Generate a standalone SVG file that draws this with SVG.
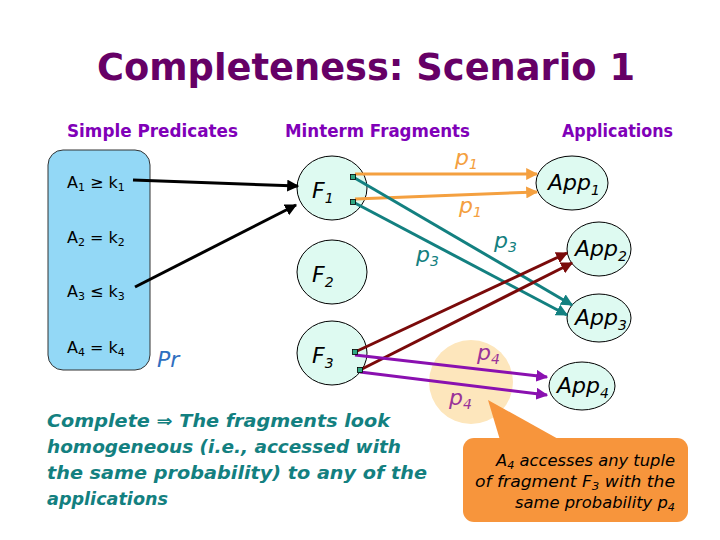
<svg xmlns="http://www.w3.org/2000/svg" width="720" height="540" viewBox="0 0 720 540">
<style>
.title{font-family:"DejaVu Sans",sans-serif;font-weight:bold;font-size:38px;fill:#660066}
.hdr{font-family:"DejaVu Sans",sans-serif;font-weight:bold;font-size:17px;fill:#8000b8}
.pred{font-family:"DejaVu Sans",sans-serif;font-size:16px;fill:#000}
.node{font-family:"DejaVu Sans",sans-serif;font-style:italic;font-size:22px;fill:#000}
.lbl{font-family:"DejaVu Sans",sans-serif;font-style:italic;font-size:22px}
.body{font-family:"DejaVu Sans",sans-serif;font-style:italic;font-weight:bold;font-size:17.5px;fill:#138080}
.call{font-family:"DejaVu Sans",sans-serif;font-style:italic;font-size:16px;fill:#000}
.frag{fill:#defaf1;stroke:#000;stroke-width:1}
.app{fill:#defaf1;stroke:#000;stroke-width:1}
.sq{fill:#2fa882;stroke:#000;stroke-width:0.8}
.c{fill:none;stroke-width:3}
</style>
<defs>
<marker id="mk" viewBox="0 0 10 10" refX="9" refY="5" markerWidth="4" markerHeight="4" orient="auto" markerUnits="strokeWidth"><path d="M0,0L10,5L0,10z" fill="#000"/></marker>
<marker id="mo" viewBox="0 0 10 10" refX="9" refY="5" markerWidth="4" markerHeight="4" orient="auto" markerUnits="strokeWidth"><path d="M0,0L10,5L0,10z" fill="#f4a040"/></marker>
<marker id="mt" viewBox="0 0 10 10" refX="9" refY="5" markerWidth="4" markerHeight="4" orient="auto" markerUnits="strokeWidth"><path d="M0,0L10,5L0,10z" fill="#138080"/></marker>
<marker id="mr" viewBox="0 0 10 10" refX="9" refY="5" markerWidth="4" markerHeight="4" orient="auto" markerUnits="strokeWidth"><path d="M0,0L10,5L0,10z" fill="#7a0a0a"/></marker>
<marker id="mp" viewBox="0 0 10 10" refX="9" refY="5" markerWidth="4" markerHeight="4" orient="auto" markerUnits="strokeWidth"><path d="M0,0L10,5L0,10z" fill="#8a10b0"/></marker>
</defs>
<rect width="720" height="540" fill="#fff"/>
<text class="title" x="97" y="80" textLength="538" lengthAdjust="spacingAndGlyphs">Completeness: Scenario 1</text>
<text class="hdr" x="67" y="137" textLength="171" lengthAdjust="spacingAndGlyphs">Simple Predicates</text>
<text class="hdr" x="285" y="137" textLength="185" lengthAdjust="spacingAndGlyphs">Minterm Fragments</text>
<text class="hdr" x="562" y="137" textLength="111" lengthAdjust="spacingAndGlyphs">Applications</text>

<g id="predicates">
<rect x="48" y="150" width="102" height="220" rx="15" fill="#93d8f6" stroke="#333" stroke-width="1"/>
<text class="pred" x="67" y="188">A<tspan font-size="11" dy="3">1</tspan><tspan dy="-3"> ≥ k</tspan><tspan font-size="11" dy="3">1</tspan></text>
<text class="pred" x="67" y="243">A<tspan font-size="11" dy="3">2</tspan><tspan dy="-3"> = k</tspan><tspan font-size="11" dy="3">2</tspan></text>
<text class="pred" x="67" y="297">A<tspan font-size="11" dy="3">3</tspan><tspan dy="-3"> ≤ k</tspan><tspan font-size="11" dy="3">3</tspan></text>
<text class="pred" x="67" y="353">A<tspan font-size="11" dy="3">4</tspan><tspan dy="-3"> = k</tspan><tspan font-size="11" dy="3">4</tspan></text>
<text class="lbl" x="157" y="367" fill="#2f6fc0" font-size="20">Pr</text>
</g>

<g id="blob">
<ellipse cx="471" cy="382" rx="42" ry="42" fill="#fde6bc"/>
</g>

<g id="F1"><ellipse class="frag" cx="332" cy="188" rx="35" ry="32"/><text class="node" x="312" y="198">F<tspan font-size="14" dy="5">1</tspan></text></g>
<g id="F2"><ellipse class="frag" cx="332" cy="272" rx="35" ry="32"/><text class="node" x="312" y="282">F<tspan font-size="14" dy="5">2</tspan></text></g>
<g id="F3"><ellipse class="frag" cx="332" cy="353" rx="35" ry="32"/><text class="node" x="312" y="363">F<tspan font-size="14" dy="5">3</tspan></text></g>

<g id="App1"><ellipse class="app" cx="572" cy="183" rx="36" ry="27"/><text class="node" x="548" y="190">App<tspan font-size="14" dy="5">1</tspan></text></g>
<g id="App2"><ellipse class="app" cx="599" cy="249" rx="32" ry="27"/><text class="node" x="575" y="256">App<tspan font-size="14" dy="5">2</tspan></text></g>
<g id="App3"><ellipse class="app" cx="599" cy="318" rx="32" ry="24"/><text class="node" x="575" y="325">App<tspan font-size="14" dy="5">3</tspan></text></g>
<g id="App4"><ellipse class="app" cx="582" cy="386" rx="33" ry="24"/><text class="node" x="557" y="393">App<tspan font-size="14" dy="5">4</tspan></text></g>

<g id="connectors">
<line class="c" x1="133" y1="180" x2="298" y2="186" stroke="#000" marker-end="url(#mk)"/>
<line class="c" x1="135" y1="287" x2="296" y2="205" stroke="#000" marker-end="url(#mk)"/>
<line class="c" x1="355" y1="174" x2="537" y2="174" stroke="#f4a040" marker-end="url(#mo)"/>
<line class="c" x1="355" y1="199" x2="537" y2="192" stroke="#f4a040" marker-end="url(#mo)"/>
<line class="c" x1="353" y1="177" x2="572" y2="305" stroke="#138080" marker-end="url(#mt)"/>
<line class="c" x1="353" y1="202" x2="567" y2="315" stroke="#138080" marker-end="url(#mt)"/>
<line class="c" x1="355" y1="352" x2="567" y2="253" stroke="#7a0a0a" marker-end="url(#mr)"/>
<line class="c" x1="360" y1="370" x2="572" y2="263" stroke="#7a0a0a" marker-end="url(#mr)"/>
<line class="c" x1="355" y1="355" x2="547" y2="377" stroke="#8a10b0" marker-end="url(#mp)"/>
<line class="c" x1="360" y1="372" x2="547" y2="395" stroke="#8a10b0" marker-end="url(#mp)"/>
<rect class="sq" x="350.5" y="174.5" width="5" height="5"/>
<rect class="sq" x="350.5" y="199.5" width="5" height="5"/>
<rect class="sq" x="352.5" y="349.5" width="5" height="5"/>
<rect class="sq" x="357.5" y="367.5" width="5" height="5"/>
</g>

<g id="labels">
<text class="lbl" x="455" y="165" fill="#f4a040">p<tspan font-size="14" dy="4">1</tspan></text>
<text class="lbl" x="459" y="213" fill="#f4a040">p<tspan font-size="14" dy="4">1</tspan></text>
<text class="lbl" x="416" y="262" fill="#138080">p<tspan font-size="14" dy="4">3</tspan></text>
<text class="lbl" x="494" y="248" fill="#138080">p<tspan font-size="14" dy="4">3</tspan></text>
<text class="lbl" x="477" y="360" fill="#993399">p<tspan font-size="14" dy="4">4</tspan></text>
<text class="lbl" x="449" y="405" fill="#993399">p<tspan font-size="14" dy="4">4</tspan></text>
</g>

<g id="callout">
<path d="M488,400L500,440L560,440z" fill="#f7953c"/>
<rect x="463" y="438" width="225" height="84" rx="11" fill="#f7953c"/>
<text class="call" x="496" y="466" textLength="179" lengthAdjust="spacingAndGlyphs">A<tspan font-size="11" dy="3">4</tspan><tspan dy="-3"> accesses any tuple</tspan></text>
<text class="call" x="475" y="487" textLength="200" lengthAdjust="spacingAndGlyphs">of fragment F<tspan font-size="11" dy="3">3</tspan><tspan dy="-3"> with the</tspan></text>
<text class="call" x="515" y="508" textLength="160" lengthAdjust="spacingAndGlyphs">same probability p<tspan font-size="11" dy="3">4</tspan></text>
</g>

<g id="note">
<text class="body" x="47" y="427" textLength="343" lengthAdjust="spacingAndGlyphs">Complete ⇒ The fragments look</text>
<text class="body" x="47" y="453" textLength="354" lengthAdjust="spacingAndGlyphs">homogeneous (i.e., accessed with</text>
<text class="body" x="47" y="479" textLength="380" lengthAdjust="spacingAndGlyphs">the same probability) to any of the</text>
<text class="body" x="47" y="505" textLength="121" lengthAdjust="spacingAndGlyphs">applications</text>
</g>
</svg>
